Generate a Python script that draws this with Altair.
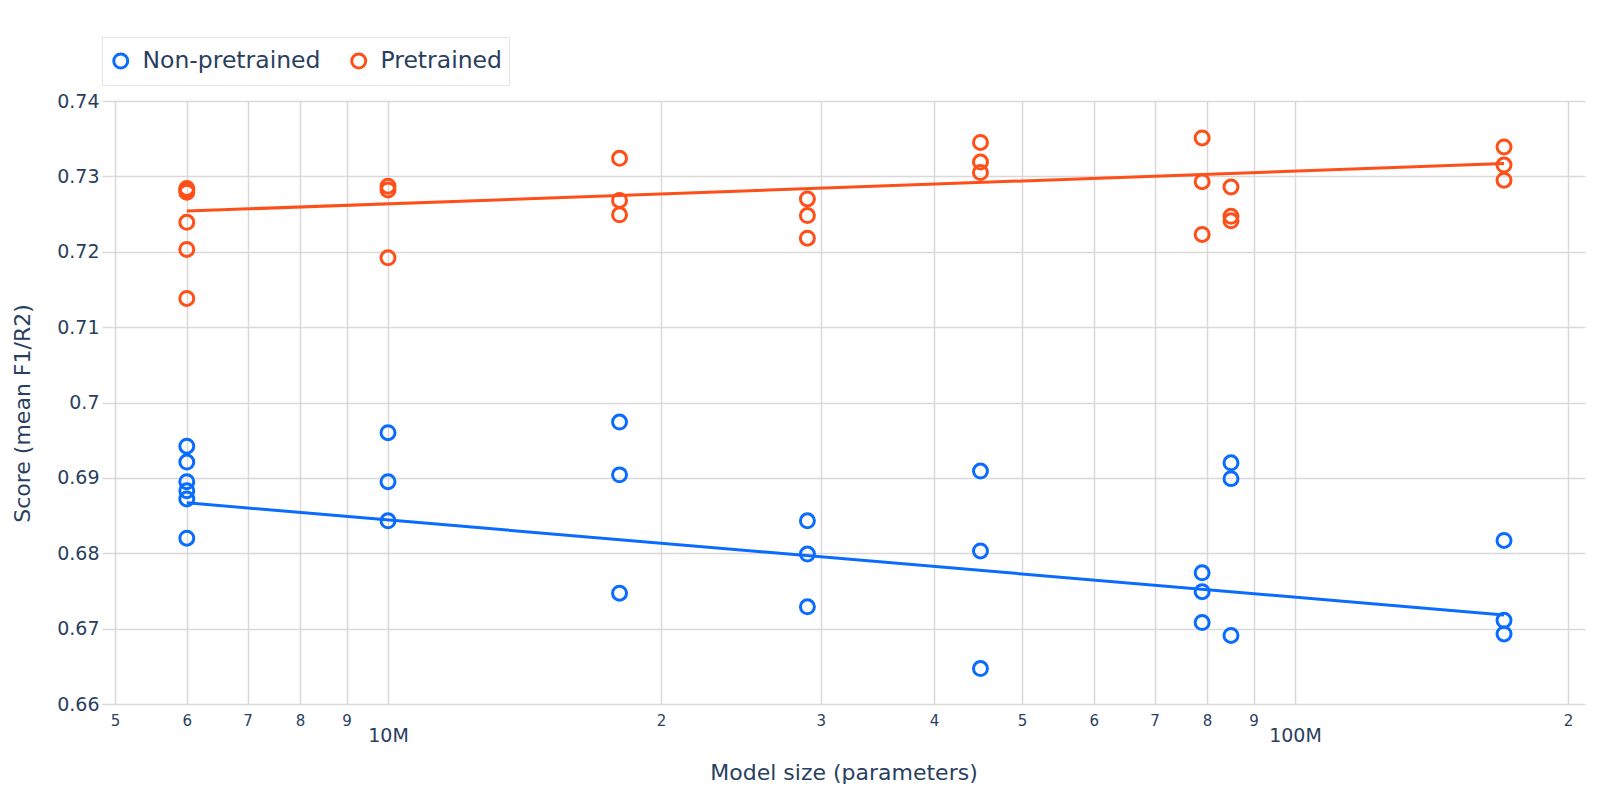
import json
import altair as alt
import pandas as pd

# ---------------- data ----------------
groups = ["Non-pretrained", "Pretrained"]
colors = ["#0a6cff", "#ff4f19"]

# model size (millions of parameters) of each run
sizes_m = [6, 6, 6, 6, 6, 6,
           10, 10, 10,
           18, 18, 18,
           29, 29, 29,
           45, 45, 45,
           79, 79, 79,
           85, 85, 85,
           170, 170, 170]

pretrained = [0.7284, 0.7282, 0.7279, 0.7239, 0.7203, 0.7138,
              0.7287, 0.7282, 0.7192,
              0.7324, 0.7268, 0.7249,
              0.7270, 0.7248, 0.7218,
              0.7345, 0.7319, 0.7305,
              0.7351, 0.7293, 0.7223,
              0.7286, 0.7247, 0.7241,
              0.7339, 0.7315, 0.7295]

non_pretrained = [0.6942, 0.6921, 0.6895, 0.6883, 0.6872, 0.6820,
                  0.6960, 0.6895, 0.6843,
                  0.6974, 0.6904, 0.6747,
                  0.6843, 0.6799, 0.6729,
                  0.6909, 0.6803, 0.6647,
                  0.6774, 0.6749, 0.6708,
                  0.6920, 0.6899, 0.6691,
                  0.6817, 0.6711, 0.6693]

# trend lines (end points)
trend_sizes_m = [6, 170]
trend_pretrained = [0.7254, 0.7317]
trend_non_pretrained = [0.6867, 0.6718]

# axis ticks
x_tick_values = [5e6, 6e6, 7e6, 8e6, 9e6, 1e7, 2e7, 3e7, 4e7, 5e7, 6e7, 7e7, 8e7, 9e7, 1e8, 2e8]
x_tick_labels = ["5", "6", "7", "8", "9", "10M", "2", "3", "4", "5", "6", "7", "8", "9", "100M", "2"]
x_major_values = [1e7, 1e8]
y_tick_values = [0.66, 0.67, 0.68, 0.69, 0.70, 0.71, 0.72, 0.73, 0.74]
y_tick_labels = ["0.66", "0.67", "0.68", "0.69", "0.7", "0.71", "0.72", "0.73", "0.74"]

# ---------------- tables ----------------
points = pd.DataFrame({
    "size": [s * 1e6 for s in sizes_m] * 2,
    "score": non_pretrained + pretrained,
    "group": [groups[0]] * len(non_pretrained) + [groups[1]] * len(pretrained),
})
trend = pd.DataFrame({
    "size": [s * 1e6 for s in trend_sizes_m] * 2,
    "score": trend_non_pretrained + trend_pretrained,
    "group": [groups[0]] * 2 + [groups[1]] * 2,
})

TEXT = "#2a3f5f"
FONT = "DejaVu Sans"

x_label_expr = f"{json.dumps(x_tick_labels)}[indexof({json.dumps(x_tick_values)}, datum.value)]"
y_label_expr = f"{json.dumps(y_tick_labels)}[indexof({json.dumps(y_tick_values)}, datum.value)]"
major_test = f"indexof({json.dumps(x_major_values)}, datum.value) >= 0"

x_scale = alt.Scale(type="log", domain=[4.838e6, 2.088e8], nice=False)
y_scale = alt.Scale(domain=[0.66, 0.74], nice=False, zero=False)
color_scale = alt.Scale(domain=groups, range=colors)

x_axis = alt.Axis(
    values=x_tick_values,
    labelExpr=x_label_expr,
    title="Model size (parameters)",
    titleFontSize=22,
    titleY=80,
    titleBaseline="bottom",
    ticks=False,
    domain=False,
    grid=True,
    labelOverlap=False,
    labelFlush=False,
    labelBound=False,
    labelFontSize={"condition": {"test": major_test, "value": 19}, "value": 15},
    labelPadding={"condition": {"test": major_test, "value": 22}, "value": 9},
)
y_axis = alt.Axis(
    values=y_tick_values,
    labelExpr=y_label_expr,
    title="Score (mean F1/R2)",
    titleFontSize=22,
    titleX=-68,
    titleY=312,
    ticks=False,
    domain=False,
    grid=True,
    labelFontSize=19,
    labelPadding=3,
)

pts = alt.Chart(points).mark_point(
    shape="circle", filled=False, size=195, strokeWidth=3, opacity=1
).encode(
    x=alt.X("size:Q", scale=x_scale, axis=x_axis),
    y=alt.Y("score:Q", scale=y_scale, axis=y_axis),
    color=alt.Color(
        "group:N",
        scale=color_scale,
        legend=alt.Legend(
            orient="none",
            legendX=0,
            legendY=-64,
            direction="horizontal",
            title=None,
            padding=7,
            clipHeight=34,
            strokeColor="#e5e5e5",
            fillColor="white",
            labelFontSize=23.5,
            labelLimit=400,
            labelColor=TEXT,
            symbolType="circle",
            symbolSize=195,
            symbolStrokeWidth=3,
            labelOffset=10,
            columnPadding=26,
        ),
    ),
)

lines = alt.Chart(trend).mark_line(strokeWidth=3).encode(
    x=alt.X("size:Q", scale=x_scale),
    y=alt.Y("score:Q", scale=y_scale),
    stroke=alt.Stroke("group:N", scale=color_scale, legend=None),
    detail="group:N",
)

chart = (
    alt.layer(pts, lines)
    .properties(
        width=1483,
        height=603,
        padding={"left": 94, "top": 93, "right": 5, "bottom": 81},
        autosize=alt.AutoSizeParams(type="none"),
        background="white",
    )
    .configure(font=FONT)
    .configure_view(stroke=None)
    .configure_axis(
        labelColor=TEXT,
        titleColor=TEXT,
        titleFontWeight="normal",
        labelFont=FONT,
        titleFont=FONT,
        gridColor="#d9d9d9",
        gridWidth=1.5,
    )
    .configure_legend(labelFont=FONT)
)

chart.save("out.html", embed_options={"renderer": "svg", "actions": False})
